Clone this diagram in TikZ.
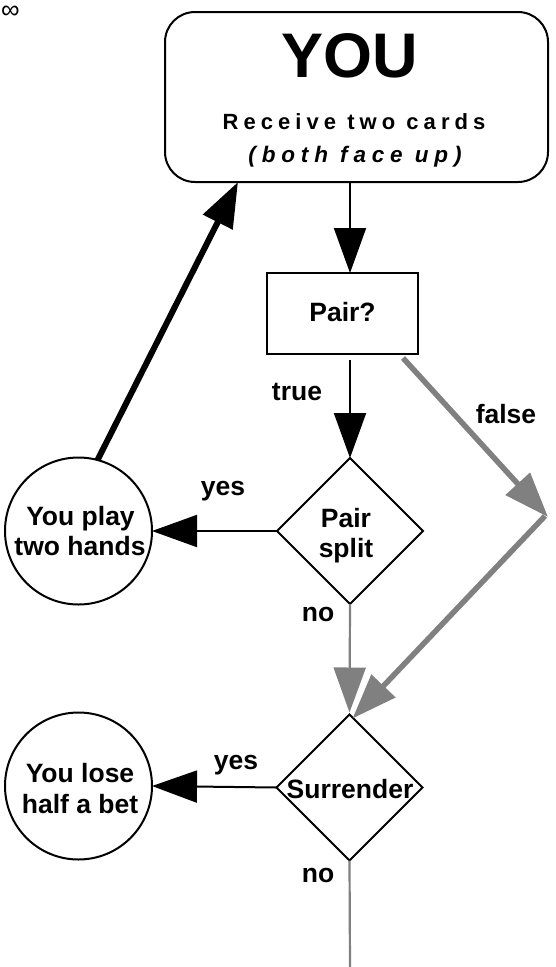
\documentclass[tikz,border=0pt]{standalone}
\usepackage{fontspec}
\setmainfont{Liberation Sans}
\newfontfamily\spacedfont[LetterSpace=23]{Liberation Sans}
\newfontfamily\spacedfontb[LetterSpace=26]{Liberation Sans}
\usetikzlibrary{arrows.meta,shapes.geometric}
\definecolor{lg}{RGB}{128,128,128}
\tikzset{
  every node/.style={font=\bfseries\fontsize{26.5}{30}\selectfont, inner sep=0pt, outer sep=0pt},
  shapebox/.style={draw, line width=2pt},
  startbox/.style={shapebox, rectangle, rounded corners=30pt, minimum width=383pt, minimum height=170pt},
  procbox/.style={shapebox, rectangle, minimum width=151pt, minimum height=81pt},
  decision/.style={shapebox, diamond, minimum width=146pt, minimum height=146pt},
  endcircle/.style={shapebox, circle, minimum size=147pt},
  txt/.style={anchor=base},
  bigtip/.style={-{Triangle[length=45pt,width=32pt]}},
  blk/.style={bigtip, line width=2pt, black},
  blkthick/.style={bigtip, line width=6pt, black},
  gthin/.style={bigtip, line width=2.2pt, lg},
  gthick/.style={bigtip, line width=5.5pt, lg},
  gline/.style={line width=2.2pt, lg},
}
\begin{document}
\begin{tikzpicture}[x=1pt,y=-1pt]
\useasboundingbox (0,0) rectangle (556,967);
% symbol
\node[font=\mdseries\fontsize{26}{26}\selectfont] (inf) at (10.5,12.5) {∞};
% shapes
\node[startbox] (you) at (356.5,97) {};
\node[procbox] (pair) at (342.5,313.5) {};
\node[decision] (split) at (350,531) {};
\node[decision] (sur) at (349.5,787.5) {};
\node[endcircle] (play) at (78.5,531) {};
\node[endcircle] (lose) at (78.5,786) {};
% texts
\node[txt, font=\bfseries\fontsize{63}{63}\selectfont] (youT) at (350,77) {YOU};
\node[txt, font=\spacedfont\bfseries\fontsize{22}{24}\selectfont] (recT) at (354,129) {Receive two cards};
\node[txt, font=\spacedfontb\bfseries\itshape\fontsize{22.5}{24}\selectfont] (faceT) at (355,162) {(both face up)};
\node[txt] (pairT) at (342.5,321) {Pair?};
\node[txt] (splitT1) at (346,527) {Pair};
\node[txt] (splitT2) at (346,557) {split};
\node[txt] (surT) at (350,798) {Surrender};
\node[txt] (playT1) at (80.5,525) {You play};
\node[txt] (playT2) at (80,555) {two hands};
\node[txt] (loseT1) at (80,782) {You lose};
\node[txt] (loseT2) at (80,813) {half a bet};
\node[txt] (trueL) at (297,400) {true};
\node[txt] (falseL) at (506,423) {false};
\node[txt] (yesL1) at (223,495) {yes};
\node[txt] (noL1) at (318,621) {no};
\node[txt] (yesL2) at (236,769) {yes};
\node[txt] (noL2) at (318,882) {no};
% coordinates
\coordinate (fa) at ([shift={(-15,4)}]pair.south east);
\coordinate (fb) at (548,517);
\coordinate (fc) at (545,516);
\coordinate (surtip) at ([shift={(3,4)}]sur.north);
\coordinate (bot) at (350,967);
\coordinate (loop) at ([xshift=73pt]you.south west);
% connectors
\draw[blk] (you.south -| split) -- (pair.north -| split);
\draw[blk, shorten <=6pt] (pair.south -| split) -- (split.north);
\draw[gthick] (fa) -- (fb);
\draw[gthick] (fc) -- (surtip);
\draw[gthin, shorten >=2pt] (split.south) -- (sur.north);
\draw[blk] (split.west) -- (play.east);
\draw[blk] (sur.west) -- (lose.east);
\draw[blkthick] (play.75.6) -- (loop);
\draw[gline] (sur.south) -- (bot);
\end{tikzpicture}
\end{document}
